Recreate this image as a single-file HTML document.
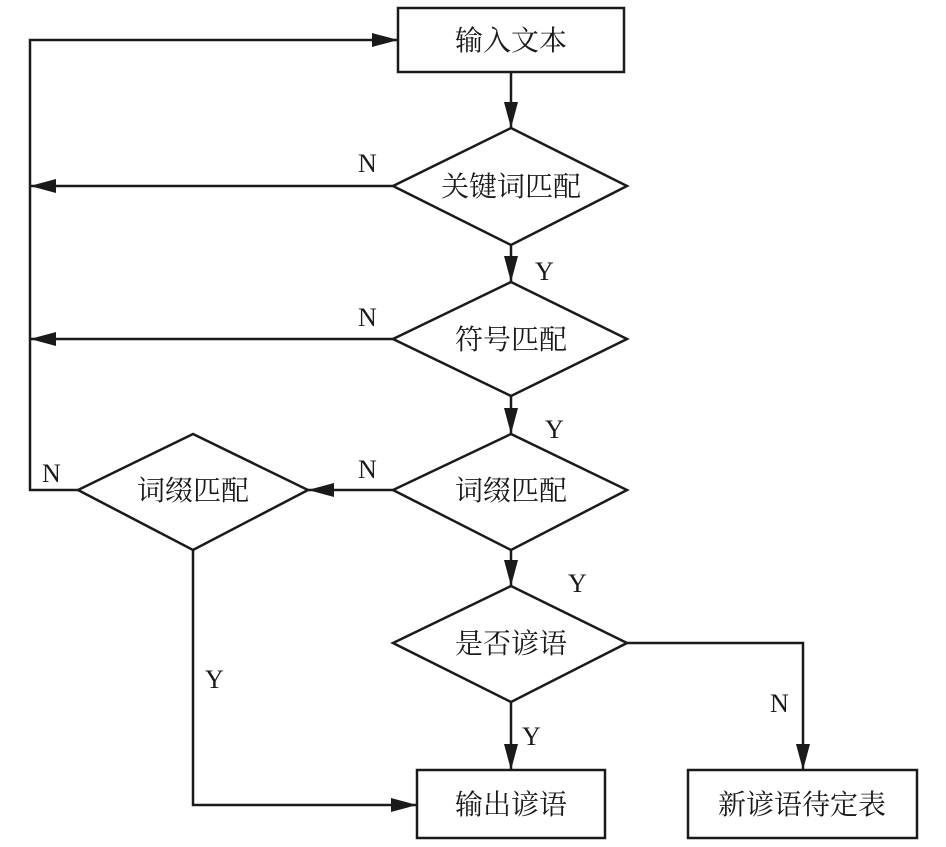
<!DOCTYPE html>
<html><head><meta charset="utf-8"><style>
html,body{margin:0;padding:0;background:#fff;}
svg text{font-family:"Liberation Serif","Noto Serif CJK SC",serif;fill:#1a1a1a;}
</style></head><body>
<svg width="946" height="842" viewBox="0 0 946 842" xmlns="http://www.w3.org/2000/svg">
<defs><marker id="a" markerWidth="10" markerHeight="8" refX="10" refY="4" orient="auto" markerUnits="userSpaceOnUse"><path d="M0,0 L10,4 L0,8z" fill="#1a1a1a"/></marker>
<marker id="b" markerWidth="26" markerHeight="14" refX="26" refY="7" orient="auto" markerUnits="userSpaceOnUse"><path d="M0,0 L26,7 L0,14z" fill="#1a1a1a"/></marker></defs>
<g stroke="#1a1a1a" stroke-width="2.5" fill="none">
<rect x="398" y="8" width="226" height="64"/>
<polygon points="511,128 627,186 511,245 393,186"/>
<polygon points="511,282 627,339 511,396 393,339"/>
<polygon points="511,434 627,490 511,550 393,490"/>
<polygon points="193,434 308,490 193,550 78,490"/>
<polygon points="511,586 627,643 511,702 393,643"/>
<rect x="417" y="770" width="188" height="68"/>
<rect x="688" y="770" width="229" height="68"/>
<line x1="511" y1="72" x2="511" y2="128" marker-end="url(#b)"/>
<line x1="511" y1="245" x2="511" y2="282" marker-end="url(#b)"/>
<line x1="511" y1="396" x2="511" y2="434" marker-end="url(#b)"/>
<line x1="511" y1="550" x2="511" y2="586" marker-end="url(#b)"/>
<line x1="511" y1="702" x2="511" y2="770" marker-end="url(#b)"/>
<line x1="393" y1="186" x2="30" y2="186" marker-end="url(#b)"/>
<line x1="393" y1="339" x2="30" y2="339" marker-end="url(#b)"/>
<line x1="393" y1="490" x2="308" y2="490" marker-end="url(#b)"/>
<polyline points="78,490 30,490 30,40 398,40" marker-end="url(#b)"/>
<polyline points="193,550 193,805 417,805" marker-end="url(#b)"/>
<polyline points="627,643 803,643 803,770" marker-end="url(#b)"/>
</g>
<g font-size="28" text-anchor="middle">
<text x="511" y="50">输入文本</text>
<text x="511" y="196">关键词匹配</text>
<text x="511" y="349">符号匹配</text>
<text x="511" y="500">词缀匹配</text>
<text x="193" y="500">词缀匹配</text>
<text x="511" y="653">是否谚语</text>
<text x="511" y="814">输出谚语</text>
<text x="802" y="814">新谚语待定表</text>
</g>
<g font-size="26">
<text x="358" y="172">N</text>
<text x="535" y="280">Y</text>
<text x="358" y="326">N</text>
<text x="545" y="438">Y</text>
<text x="358" y="478">N</text>
<text x="42" y="482">N</text>
<text x="568" y="592">Y</text>
<text x="205" y="688">Y</text>
<text x="522" y="745">Y</text>
<text x="770" y="712">N</text>
</g>
</svg>
</body></html>
